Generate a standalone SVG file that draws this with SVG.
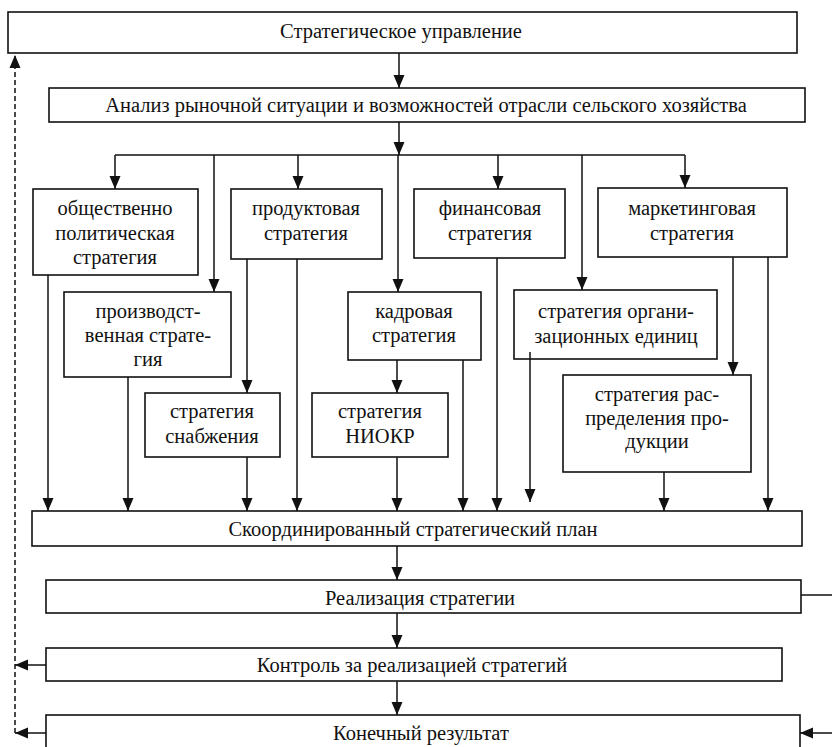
<svg xmlns="http://www.w3.org/2000/svg" width="832" height="747" viewBox="0 0 832 747">
<defs>
<marker id="ah" markerWidth="13" markerHeight="12" viewBox="0 0 13 12" refX="13" refY="6" orient="auto" markerUnits="userSpaceOnUse">
<path d="M0,0.5 L13,6 L0,11.5 Z" fill="#111"/>
</marker>
</defs>
<style>
rect{fill:#fff;stroke:#111;stroke-width:1.6}
text{font-family:"Liberation Serif","Times New Roman",serif;font-size:20.5px;fill:#111;text-anchor:middle}
.c line{stroke:#111;stroke-width:1.5;fill:none}
.a{marker-end:url(#ah)}
.d{stroke-dasharray:5,3}
</style>
<rect width="832" height="747" style="fill:#fff;stroke:none"/>
<g id="n-top"><rect x="8" y="12" width="789" height="41"/><text x="401" y="38">Стратегическое управление</text></g>
<g id="n-analysis"><rect x="49" y="88" width="756" height="34"/><text x="426" y="112">Анализ рыночной ситуации и возможностей отрасли сельского хозяйства</text></g>
<g id="n-social"><rect x="33" y="189" width="165" height="86"/><text x="115" y="215">общественно</text><text x="115" y="240">политическая</text><text x="115" y="264">стратегия</text></g>
<g id="n-product"><rect x="231" y="189" width="151" height="70"/><text x="306" y="215">продуктовая</text><text x="306" y="240">стратегия</text></g>
<g id="n-finance"><rect x="414" y="189" width="151" height="69"/><text x="490" y="215">финансовая</text><text x="490" y="240">стратегия</text></g>
<g id="n-marketing"><rect x="598" y="188" width="189" height="69"/><text x="692" y="215">маркетинговая</text><text x="692" y="240">стратегия</text></g>
<g id="n-production"><rect x="64" y="292" width="167" height="85"/><text x="148" y="318">производст-</text><text x="148" y="342">венная страте-</text><text x="148" y="366">гия</text></g>
<g id="n-hr"><rect x="348" y="292" width="133" height="68"/><text x="414" y="318">кадровая</text><text x="414" y="342">стратегия</text></g>
<g id="n-org"><rect x="514" y="290" width="203" height="69"/><text x="616" y="318">стратегия органи-</text><text x="616" y="343">зационных единиц</text></g>
<g id="n-supply"><rect x="145" y="393" width="135" height="64"/><text x="212" y="418">стратегия</text><text x="212" y="443">снабжения</text></g>
<g id="n-rnd"><rect x="312" y="393" width="136" height="64"/><text x="380" y="418">стратегия</text><text x="380" y="443">НИОКР</text></g>
<g id="n-distribution"><rect x="563" y="375" width="188" height="97"/><text x="657" y="401">стратегия рас-</text><text x="657" y="425">пределения про-</text><text x="657" y="448">дукции</text></g>
<g id="n-plan"><rect x="32" y="511" width="770" height="35"/><text x="413" y="536">Скоординированный стратегический план</text></g>
<g id="n-realization"><rect x="46" y="580" width="755" height="33"/><text x="420" y="605">Реализация стратегии</text></g>
<g id="n-control"><rect x="46" y="648" width="736" height="33"/><text x="412" y="672">Контроль за реализацией стратегий</text></g>
<g id="n-result"><rect x="46" y="715" width="754" height="40"/><text x="421" y="740">Конечный результат</text></g>
<g id="connectors" class="c">
<line class="a" x1="399" y1="53" x2="399" y2="88"/>
<line class="a" x1="399" y1="122" x2="399" y2="155"/>
<line x1="115" y1="155" x2="685" y2="155"/>
<line class="a" x1="115" y1="155" x2="115" y2="189"/>
<line class="a" x1="214" y1="155" x2="214" y2="292"/>
<line class="a" x1="298" y1="155" x2="298" y2="189"/>
<line class="a" x1="398" y1="155" x2="398" y2="292"/>
<line class="a" x1="498" y1="155" x2="498" y2="189"/>
<line class="a" x1="582" y1="155" x2="582" y2="290"/>
<line class="a" x1="685" y1="155" x2="685" y2="188"/>
<line class="a" x1="48" y1="275" x2="48" y2="511"/>
<line class="a" x1="128" y1="377" x2="128" y2="511"/>
<line class="a" x1="247" y1="259" x2="247" y2="393"/>
<line class="a" x1="297" y1="259" x2="297" y2="511"/>
<line class="a" x1="247" y1="457" x2="247" y2="511"/>
<line class="a" x1="397" y1="360" x2="397" y2="393"/>
<line class="a" x1="463" y1="360" x2="463" y2="511"/>
<line class="a" x1="397" y1="457" x2="397" y2="511"/>
<line class="a" x1="497" y1="258" x2="497" y2="511"/>
<line class="a" x1="530" y1="352" x2="530" y2="502"/>
<line class="a" x1="733" y1="257" x2="733" y2="375"/>
<line class="a" x1="768" y1="257" x2="768" y2="511"/>
<line class="a" x1="664" y1="472" x2="664" y2="511"/>
<line class="a" x1="397" y1="546" x2="397" y2="580"/>
<line x1="801" y1="595" x2="832" y2="595"/>
<line class="a" x1="397" y1="613" x2="397" y2="648"/>
<line class="a" x1="397" y1="681" x2="397" y2="715"/>
<line class="a" x1="46" y1="665" x2="15" y2="665"/>
<line class="a" x1="46" y1="733" x2="15" y2="733"/>
<line class="a" x1="832" y1="733" x2="800" y2="733"/>
<line class="a d" x1="15" y1="733" x2="15" y2="55"/>
</g>
</svg>
